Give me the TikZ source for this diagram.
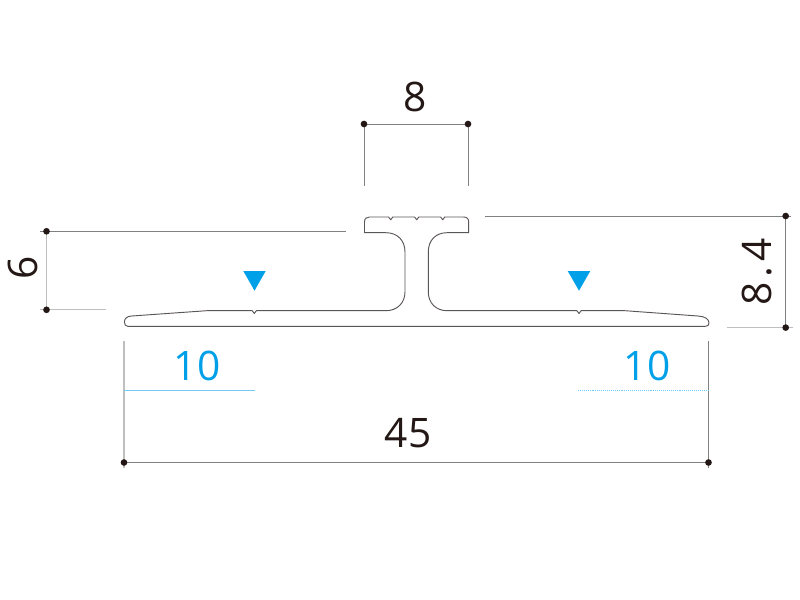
\documentclass[tikz,border=0pt]{standalone}
\usepackage{fontspec}
\setmainfont{Open Sans}
\definecolor{ink}{HTML}{231815}
\definecolor{skyb}{HTML}{00A0E9}
\definecolor{profile}{HTML}{5A5556}
\tikzset{
  x=0.75pt,y=-0.75pt,
  dimdot/.style={circle,fill=ink,draw=none,minimum size=5pt,inner sep=0pt},
  dimdark/.style={draw=black!50,line width=0.55pt},
  dimlight/.style={draw=black!25,line width=0.8pt},
  bluedim/.style={draw=skyb!55,line width=0.45pt},
  lab/.style={inner sep=0pt,text=ink,font=\fontsize{30.5}{30.5}\selectfont},
  bluelab/.style={inner sep=0pt,text=skyb,font=\fontsize{30.5}{30.5}\selectfont},
  outline/.style={draw=profile,line width=0.7pt,line join=round},
  marker/.style={fill=skyb,draw=none}
}
\begin{document}
\begin{tikzpicture}
\useasboundingbox (0,0) rectangle (800,600);
% free ends
\coordinate (tl) at (364,186);
\coordinate (tr) at (468,186);
\coordinate (lta) at (40,231.3);
\coordinate (ltb) at (346,231.3);
\coordinate (lba) at (40,309.8);
\coordinate (lbb) at (105.5,309.8);
\coordinate (rta) at (485,216);
\coordinate (rtb) at (791,216);
\coordinate (rba) at (727,327.6);
\coordinate (rbb) at (793,327.6);
\coordinate (bla) at (124,341);
\coordinate (blb) at (124,468);
\coordinate (bra) at (708.5,341);
\coordinate (brb) at (708.5,468);
\coordinate (b1a) at (124,390.5);
\coordinate (b1b) at (255,390.5);
\coordinate (b2a) at (578,390.5);
\coordinate (b2b) at (708.5,390.5);
\coordinate (d8lc) at (364,124);
\coordinate (d8rc) at (468,124);
\coordinate (d6tc) at (46.5,231.3);
\coordinate (d6bc) at (46.5,309.8);
\coordinate (d84tc) at (785.7,216);
\coordinate (d84bc) at (785.7,327.6);
\coordinate (d45lc) at (124,462.5);
\coordinate (d45rc) at (708.5,462.5);
% dimension lines
\draw[dimdark] (d8lc) -- (d8rc);
\draw[dimdark] (d8lc) -- (tl);
\draw[dimdark] (d8rc) -- (tr);
\draw[dimdark] (lta) -- (ltb);
\draw[dimlight] (lba) -- (lbb);
\draw[dimlight] (d6tc) -- (d6bc);
\draw[dimdark] (rta) -- (rtb);
\draw[dimlight] (rba) -- (rbb);
\draw[dimdark] (d84tc) -- (d84bc);
\draw[dimdark] (d45lc) -- (d45rc);
\draw[dimlight] (bla) -- (blb);
\draw[dimdark] (bra) -- (brb);
\draw[bluedim] (b1a) -- (b1b);
\draw[bluedim,densely dotted] (b2a) -- (b2b);
% dots
\node[dimdot] (d8l) at (d8lc) {};
\node[dimdot] (d8r) at (d8rc) {};
\node[dimdot] (d6t) at (d6tc) {};
\node[dimdot] (d6b) at (d6bc) {};
\node[dimdot] (d84t) at (d84tc) {};
\node[dimdot] (d84b) at (d84bc) {};
\node[dimdot] (d45l) at (d45lc) {};
\node[dimdot] (d45r) at (d45rc) {};
% profile
\draw[outline]
  (124.4,322) .. controls (124.4,318.5) and (127,316.2) .. (131.7,316)
  -- (206.7,310.7) -- (252.2,310.7) -- (254.3,313.5) -- (256.4,310.7)
  -- (386,310.7) .. controls (397,310.7) and (405,303) .. (405,292)
  -- (405,252) .. controls (405,240) and (397,232.7) .. (386,232.7)
  -- (364.5,232.7) -- (364.5,222) .. controls (364.5,218.5) and (366.5,217) .. (369.5,217)
  -- (388.6,217) -- (390.7,219.8) -- (392.8,217)
  -- (414.6,217) -- (416.7,219.8) -- (418.8,217)
  -- (440.6,217) -- (442.7,219.8) -- (444.8,217)
  -- (463.5,217) .. controls (466.7,217) and (468.7,218.5) .. (468.7,222)
  -- (468.7,232.7) -- (447,232.7) .. controls (436,232.7) and (428.3,240) .. (428.3,252)
  -- (428.3,292) .. controls (428.3,303) and (436,310.7) .. (447,310.7)
  -- (576.9,310.7) -- (579,313.5) -- (581.1,310.7)
  -- (625,310.7) -- (698,316) .. controls (705,316.5) and (709,319) .. (709,323)
  .. controls (709,325) and (708,326.4) .. (705,326.4)
  -- (128,326.4) .. controls (125.6,326.4) and (124.4,324.5) .. (124.4,322) -- cycle;
% triangles
\fill[marker] (243.3,271) -- (265.7,271) -- (254.5,290.7) -- cycle;
\fill[marker] (567.7,271) -- (590.3,271) -- (579,290.7) -- cycle;
% labels
\node[lab] (t8) at (415.5,97) {8};
\node[lab,rotate=90] (t6) at (22.5,268) {6};
\node[lab,rotate=90] (t84) at (757,272) {8\kern3.5pt.\kern3.5pt4};
\node[lab] (t45) at (408,433) {45};
\node[bluelab] (t10l) at (197,366) {10};
\node[bluelab] (t10r) at (647,366) {10};
\end{tikzpicture}
\end{document}
